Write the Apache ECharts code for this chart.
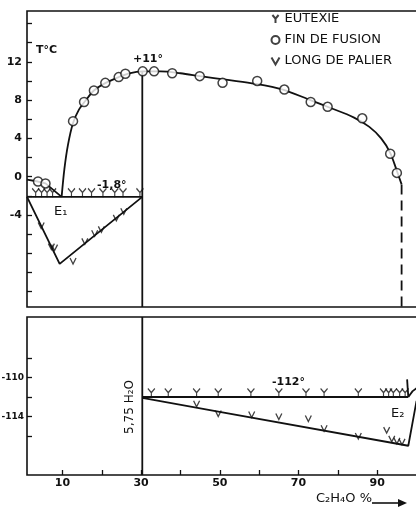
<!DOCTYPE html>
<html><head><meta charset="utf-8">
<script src="https://cdn.jsdelivr.net/npm/echarts@6/dist/echarts.min.js"></script>
<style>html,body{margin:0;padding:0;background:#fff}#c{width:416px;height:511px}</style>
</head><body><div id="c"></div><script>
// ---- data (C2H4O %, T °C) ----
const finDeFusion = [[3.8,-0.5],[5.7,-0.7],[12.7,5.8],[15.5,7.8],[18.0,9.0],[20.9,9.8],[24.3,10.4],[26.0,10.75],[30.4,11.0],[33.3,11.0],[37.9,10.8],[44.9,10.5],[50.7,9.8],[59.5,10.0],[66.4,9.1],[73.1,7.8],[77.4,7.3],[86.2,6.1],[93.3,2.4],[95.0,0.4]];
const liquidusGlace = [[1,-0.3],[3.8,-0.5],[5.7,-0.7],[9.8,-2.1]];
const liquidusHydrate = [[9.8,-2.1],[10.5,0.8],[11.4,3.3],[12.7,5.6],[14.2,7.0],[15.8,7.9],[18,9.0],[21,9.8],[24.3,10.4],[27,10.8],[30.3,11.0],[35,11.0],[40,10.8],[45,10.5],[52,10.1],[59,9.7],[66,9.1],[73,8.0],[78,7.2],[84,6.2],[88,5.2],[91,4.0],[93.3,2.5],[95,0.6],[96.2,-0.8]];
const liquidusOxyde = [[96.2,-0.8],[96.2,-13.6]];
const T_E1 = -2.1;
const T_E2 = -112;
const X_HYDRATE = 30.3;
const eutexieE1 = [3.2,4.7,6.1,7.5,12.3,15.1,17.4,20.3,23.3,25.4,29.7];
const eutexieE2 = [32.6,36.9,44.1,49.6,57.9,65.0,71.9,76.5,85.2,91.6,92.9,94.1,95.7,97.1];
const palierE1Trace = [[1,-2.1],[9.3,-9.1],[30.3,-2.1]];
const palierE1 = [[4.6,-5.1],[7.2,-7.3],[8.0,-7.4],[12.7,-8.8],[15.7,-6.75],[18.2,-5.9],[19.9,-5.5],[23.7,-4.3],[25.6,-3.6]];
const palierE2Trace = [[30.3,-112.1],[49.6,-113.5],[97.9,-117.0],[100,-112.4]];
const palierE2 = [[44.1,-112.7],[49.6,-113.7],[58.1,-113.8],[65.0,-114.0],[72.5,-114.2],[76.5,-115.2],[85.2,-116.0],[92.4,-115.4],[93.7,-116.3],[95.0,-116.5],[96.3,-116.6]];
const liquidusE2 = [[97.6,-110.2],[97.9,-112]];
const liquidusE2b = [[97.9,-112],[99,-111.4],[100,-111.1]];
const xLabels = [10,30,50,70,90];
const xTicks = [10,20,30,40,50,60,70,80,90];
const yLabelsHaut = [-4,0,4,8,12];
const yTicksHaut = [-12,-10,-8,-6,-4,-2,0,2,4,6,8,10,12,14,16];
const yLabelsBas = [-110,-114];
const yTicksBas = [-108,-110,-112,-114,-116];

const INK = '#111';
const FONT = 'DejaVu Sans';
const Y_SYM = 'path://M0,0L5,6L10,0M5,6L5,13';
const V_SYM = 'path://M0,0L4,7L8,0';

function ln(data, xi, extra) {
  return Object.assign({type:'line', xAxisIndex:xi, yAxisIndex:xi, data:data, symbol:'none',
    lineStyle:{color:INK, width:1.8}, silent:true, z:2}, extra||{});
}
function eut(xs, T, xi) {
  return {type:'scatter', name:'EUTEXIE', xAxisIndex:xi, yAxisIndex:xi,
    data: xs.map(x => [x, T]), symbol:Y_SYM, symbolSize:[7,9], symbolOffset:[0,-4],
    itemStyle:{color:'none', borderColor:INK, borderWidth:1.3}, z:3};
}
function pal(d, xi) {
  return {type:'scatter', name:'LONG DE PALIER', xAxisIndex:xi, yAxisIndex:xi,
    data:d, symbol:V_SYM, symbolSize:[6,6],
    itemStyle:{color:'none', borderColor:INK, borderWidth:1.3}, z:3};
}

const xBase = {type:'value', min:1, max:102.4, splitLine:{show:false},
  axisLine:{show:false}};
const yBase = {type:'value', splitLine:{show:false}, axisLine:{show:false}};

const chart = echarts.init(document.getElementById('c'), null, {renderer:'canvas'});
chart.setOption({
  animation:false,
  backgroundColor:'#fff',
  textStyle:{fontFamily:FONT, color:INK},
  grid:[
    {left:27, right:-10, top:11, height:296, show:true, borderColor:INK, borderWidth:1.6, backgroundColor:'transparent', containLabel:false, outerBoundsMode:'none'},
    {left:27, right:-10, top:317, height:158, show:true, borderColor:INK, borderWidth:1.6, backgroundColor:'transparent', containLabel:false, outerBoundsMode:'none'}
  ],
  xAxis:[
    Object.assign({}, xBase, {gridIndex:0, axisLabel:{show:false}, axisTick:{show:false}}),
    Object.assign({}, xBase, {gridIndex:1,
      axisTick:{inside:true, length:5, customValues:xTicks, lineStyle:{color:INK, width:1.3}},
      axisLabel:{customValues:xLabels, color:INK, fontFamily:FONT, fontSize:11, fontWeight:'bold', margin:3}})
  ],
  yAxis:[
    Object.assign({}, yBase, {gridIndex:0, min:-13.6, max:17.3,
      axisTick:{inside:true, length:5, customValues:yTicksHaut, lineStyle:{color:INK, width:1.3}},
      axisLabel:{customValues:yLabelsHaut, color:INK, fontFamily:FONT, fontSize:11, fontWeight:'bold', margin:5, padding:[0,0,5,0]}}),
    Object.assign({}, yBase, {gridIndex:1, min:-120, max:-103.8,
      axisTick:{inside:true, length:5, customValues:yTicksBas, lineStyle:{color:INK, width:1.3}},
      axisLabel:{customValues:yLabelsBas, color:INK, fontFamily:FONT, fontSize:9, fontWeight:'bold', margin:3, padding:[0,0,6,0]}})
  ],
  legend:{
    orient:'vertical', left:269, top:12, padding:0, itemWidth:8, itemHeight:8, itemGap:7,
    selectedMode:false, data:['EUTEXIE','FIN DE FUSION','LONG DE PALIER'],
    textStyle:{color:INK, fontFamily:FONT, fontSize:13, lineHeight:14}
  },
  series:[
    ln(liquidusGlace, 0),
    ln(liquidusHydrate, 0, {smooth:0.3}),
    ln(liquidusOxyde, 0, {lineStyle:{color:INK, width:1.8, type:[10,6]}}),
    ln([[1,T_E1],[X_HYDRATE,T_E1]], 0),
    ln([[X_HYDRATE,11.0],[X_HYDRATE,-13.6]], 0),
    ln(palierE1Trace, 0),
    eut(eutexieE1, T_E1, 0),
    pal(palierE1, 0),
    {type:'scatter', name:'FIN DE FUSION', xAxisIndex:0, yAxisIndex:0, data:finDeFusion,
      symbol:'circle', symbolSize:9, itemStyle:{color:'#fff', borderColor:INK, borderWidth:1.5}, z:4},
    ln([[X_HYDRATE,T_E2],[97.9,T_E2]], 1),
    ln([[X_HYDRATE,-103.8],[X_HYDRATE,-120]], 1),
    ln(palierE2Trace, 1),
    ln(liquidusE2, 1),
    ln(liquidusE2b, 1),
    eut(eutexieE2, T_E2, 1),
    pal(palierE2, 1)
  ],
  graphic:[
    {type:'text', left:36, top:45, style:{text:'T°C', font:'bold 11px "DejaVu Sans"', fill:INK}},
    {type:'text', left:133, top:54, style:{text:'+11°', font:'bold 11px "DejaVu Sans"', fill:INK}},
    {type:'text', left:97, top:180, style:{text:'-1,8°', font:'bold 11px "DejaVu Sans"', fill:INK}},
    {type:'text', left:54, top:205, style:{text:'E₁', font:'13px "DejaVu Sans"', fill:INK}},
    {type:'text', left:272, top:377, style:{text:'-112°', font:'bold 11px "DejaVu Sans"', fill:INK}},
    {type:'text', left:391, top:407, style:{text:'E₂', font:'13px "DejaVu Sans"', fill:INK}},
    {type:'text', x:130, y:407, rotation:Math.PI/2,
      style:{text:'5,75 H₂O', font:'12px "DejaVu Sans"', fill:INK, align:'center', verticalAlign:'middle'}},
    {type:'text', left:316, top:492, style:{text:'C₂H₄O %', font:'13px "DejaVu Sans"', fill:INK}},
    {type:'line', shape:{x1:372, y1:503, x2:400, y2:503}, style:{stroke:INK, lineWidth:1.6}},
    {type:'polygon', shape:{points:[[398,499],[407,503],[398,507]]}, style:{fill:INK}}
  ]
});
</script></body></html>
